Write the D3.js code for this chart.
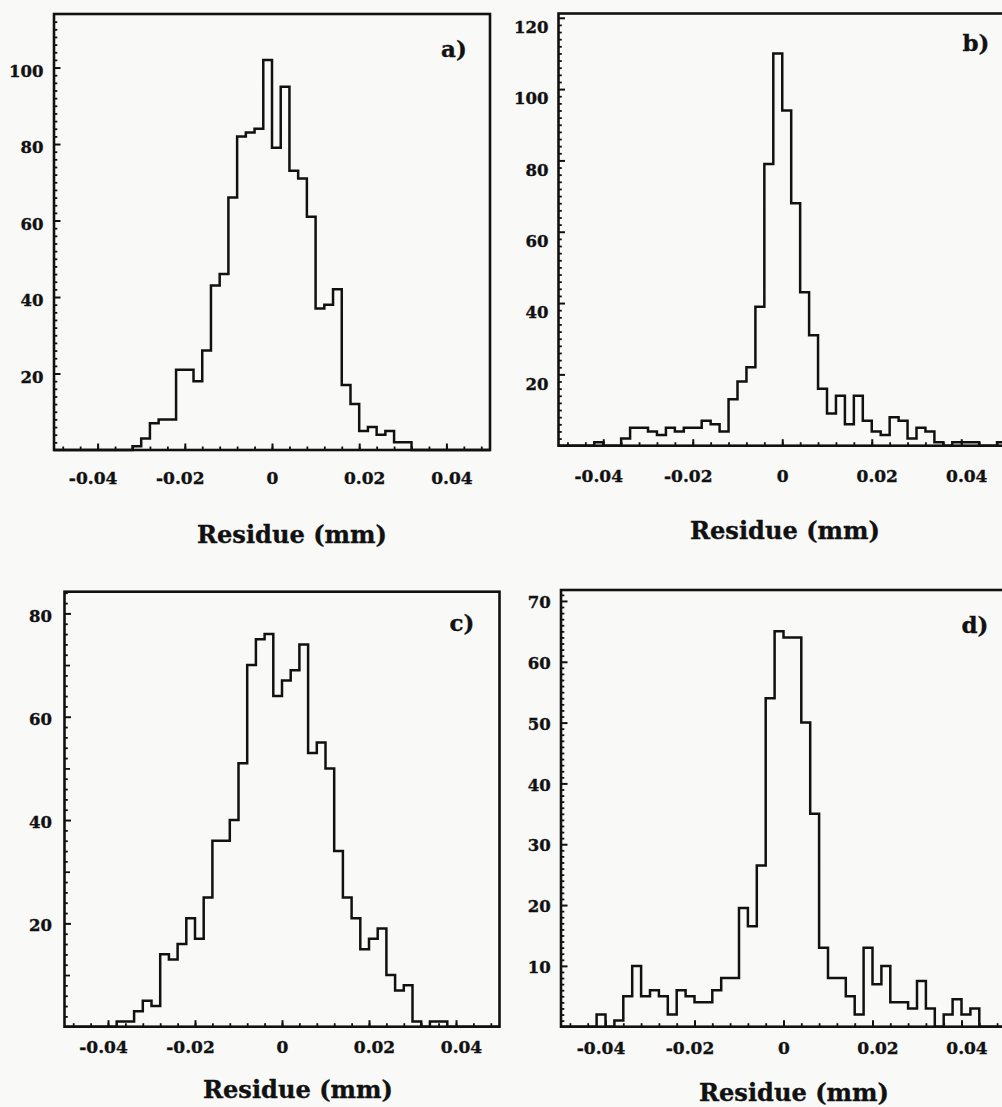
<!DOCTYPE html>
<html>
<head>
<meta charset="utf-8">
<script src="https://cdn.jsdelivr.net/npm/d3@7"></script>
<style>
  body { margin: 0; background: #f9f9f8; }
  svg { display: block; }
  text { font-family: "DejaVu Serif", "Liberation Serif", serif; font-weight: bold; fill: #111; stroke: #111; stroke-width: 0.35px; }
</style>
</head>
<body>
<svg id="chart" width="1002" height="1107"></svg>
<script>
// bins run from -0.05 to 0.05 mm, 0.002 mm wide (50 bins)
const binStart = -0.05;
const binWidth = 0.002;

const countsA = [0, 0, 0, 0, 0, 0, 0, 0, 0, 1,
    3, 7, 8, 8, 21, 21, 18, 26, 43, 46,
    66, 82, 83, 84, 102, 79, 95, 73, 71, 61,
    37, 38, 42, 17, 12, 5, 6, 4, 5, 2,
    2, 0, 0, 0, 0, 0, 0, 0, 0, 0];

const countsB = [0, 0, 0, 0, 1, 0, 0, 2, 5, 5,
    4, 3, 5, 4, 5, 5, 7, 6, 4, 13,
    18, 22, 39, 79, 110, 94, 68, 43, 31, 16,
    9, 14, 6, 14, 7, 4, 3, 8, 7, 2,
    5, 4, 1, 0, 1, 1, 1, 0, 0, 1];

const countsC = [0, 0, 0, 0, 0, 0, 1, 1, 3, 5,
    4, 14, 13, 16, 21, 17, 25, 36, 36, 40,
    51, 70, 75, 76, 64, 67, 69, 74, 53, 55,
    50, 34, 25, 21, 15, 17, 19, 10, 7, 8,
    1, 0, 1, 1, 0, 0, 0, 0, 0, 0];

const countsD = [0, 0, 0, 0, 2, 0, 1, 5, 10, 5,
    6, 5, 2, 6, 5, 4, 4, 6, 8, 8,
    19.5, 16.5, 26.5, 54, 65, 64, 64, 50, 35, 13,
    8, 8, 5, 2, 13, 7, 10, 4, 4, 3,
    7.5, 3, 0, 2, 4.5, 2, 3, 0, 0, 0];

const xTickValues = [-0.04, -0.02, 0, 0.02, 0.04];
const yTicksA = [20, 40, 60, 80, 100];
const yTicksB = [20, 40, 60, 80, 100, 120];
const yTicksC = [20, 40, 60, 80];
const yTicksD = [10, 20, 30, 40, 50, 60, 70];
const panelTags = ["a)", "b)", "c)", "d)"];
const axisTitle = "Residue (mm)";

// frame geometry
const panels = [
    { counts: countsA, yTicks: yTicksA, tag: panelTags[0], left: 54, right: 490, top: 14, bottom: 450,
      yMax: 114, yMinor: 2, yMid: 0, xPad: 22, yDy: 3, yPad: 10.5, titleX: 292, titleY: 535, tagX: 454, tagY: 49 },
    { counts: countsB, yTicks: yTicksB, tag: panelTags[1], left: 558.5, right: 1006, top: 13.5, bottom: 445.7,
      yMax: 121.2, yMinor: 2, yMid: 0, xPad: 24, yDy: 9, yPad: 10, titleX: 785, titleY: 531, tagX: 976, tagY: 43 },
    { counts: countsC, yTicks: yTicksC, tag: panelTags[2], left: 64.5, right: 499.5, top: 591.7, bottom: 1026.7,
      yMax: 84.2, yMinor: 2, yMid: 10, xPad: 14, yDy: 2, yPad: 12.5, titleX: 298, titleY: 1090, tagX: 462, tagY: 623 },
    { counts: countsD, yTicks: yTicksD, tag: panelTags[3], left: 561, right: 1006, top: 590, bottom: 1026.7,
      yMax: 71.8, yMinor: 1, yMid: 0, xPad: 15.5, yDy: 1, yPad: 10.3, titleX: 794, titleY: 1093, tagX: 975, tagY: 625 }
];

const svg = d3.select("#chart");
svg.append("rect").
attr("width", 1002).
attr("height", 1107).
attr("fill", "#f9f9f8");

function drawPanel(p) {
    const x = d3.scaleLinear().
    domain([binStart, binStart + binWidth * p.counts.length]).
    range([p.left, p.right]);

    const y = d3.scaleLinear().
    domain([0, p.yMax]).
    range([p.bottom, p.top]);

    const g = svg.append("g").attr("class", "panel");

    // minor x ticks
    g.append("g").
    attr("transform", `translate(0,${p.bottom})`).
    call(d3.axisBottom(x).
        tickValues(d3.range(-0.048, 0.0495, 0.004)).
        tickSizeInner(-3.5).
        tickSizeOuter(0).
        tickFormat("")).
    call(a => a.select(".domain").remove()).
    selectAll("line").
    attr("stroke", "#111").
    attr("stroke-width", 1.8);

    // major x ticks + labels
    g.append("g").
    attr("transform", `translate(0,${p.bottom})`).
    call(d3.axisBottom(x).
        tickValues(xTickValues).
        tickSizeInner(-6.5).
        tickSizeOuter(0).
        tickPadding(p.xPad).
        tickFormat(d => d === 0 ? "0" : d.toFixed(2))).
    call(a => a.select(".domain").remove()).
    call(a => a.selectAll("line").attr("stroke", "#111").attr("stroke-width", 2)).
    call(a => a.selectAll("text").
        attr("dx", d => d > 0 ? 5 : d < 0 ? -5 : 0).
        style("font-size", "17px"));

    // minor y ticks
    const minorY = d3.range(p.yMinor, p.yMax, p.yMinor).filter(v => p.yTicks.indexOf(v) < 0);
    g.append("g").
    attr("transform", `translate(${p.left},0)`).
    call(d3.axisLeft(y).
        tickValues(minorY).
        tickSizeInner(-3.3).
        tickSizeOuter(0).
        tickFormat("")).
    call(a => a.select(".domain").remove()).
    selectAll("line").
    attr("stroke", "#111").
    attr("stroke-width", 1.8).
    attr("x2", d => p.yMid && d % p.yMid === 0 ? 5.5 : 3.3);

    // major y ticks + labels
    g.append("g").
    attr("transform", `translate(${p.left},0)`).
    call(d3.axisLeft(y).
        tickValues(p.yTicks).
        tickSizeInner(-6.5).
        tickSizeOuter(0).
        tickPadding(p.yPad).
        tickFormat(d3.format("d"))).
    call(a => a.select(".domain").remove()).
    call(a => a.selectAll("line").attr("stroke", "#111").attr("stroke-width", 2)).
    call(a => a.selectAll("text").
        attr("dy", "0.34em").
        attr("y", p.yDy).
        style("font-size", "16.5px"));

    // histogram outline
    const pts = p.counts.map((c, i) => [binStart + i * binWidth, c]);
    pts.push([binStart + p.counts.length * binWidth, p.counts[p.counts.length - 1]]);

    g.append("path").
    datum(pts).
    attr("fill", "none").
    attr("stroke", "#111").
    attr("stroke-width", 2.5).
    attr("stroke-linejoin", "miter").
    attr("d", d3.line().
        x(d => x(d[0])).
        y(d => y(d[1])).
        curve(d3.curveStepAfter));

    // frame
    g.append("rect").
    attr("x", p.left).
    attr("y", p.top).
    attr("width", p.right - p.left).
    attr("height", p.bottom - p.top).
    attr("fill", "none").
    attr("stroke", "#111").
    attr("stroke-width", 2.6);

    // panel tag
    g.append("text").
    attr("x", p.tagX).
    attr("y", p.tagY).
    attr("dy", "0.35em").
    attr("text-anchor", "middle").
    style("font-size", "23px").
    text(p.tag);

    // axis title
    g.append("text").
    attr("x", p.titleX).
    attr("y", p.titleY).
    attr("dy", "0.35em").
    attr("text-anchor", "middle").
    attr("textLength", 190).
    attr("lengthAdjust", "spacingAndGlyphs").
    style("font-size", "24px").
    text(axisTitle);
}

panels.forEach(drawPanel);
</script>
</body>
</html>
